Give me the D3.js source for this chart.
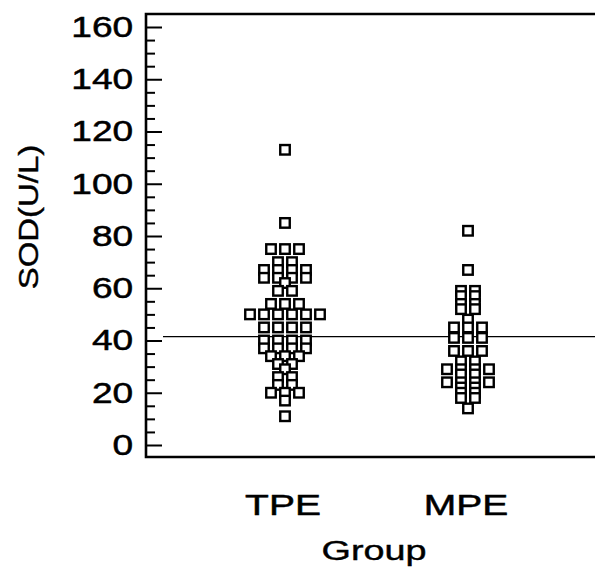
<!DOCTYPE html>
<html>
<head>
<meta charset="utf-8">
<script src="https://cdn.jsdelivr.net/npm/d3@7"></script>
<style>
  body { margin: 0; background: #fff; }
  svg { display: block; }
</style>
</head>
<body>
<svg id="chart"></svg>
<script>
// Data
const groups = ["TPE", "MPE"];
const tpeValues = [113, 85, 75, 75, 75, 70, 70, 67, 67, 67, 67, 64, 64, 64, 64, 62, 59, 59,
  54, 54, 54, 50, 50, 50, 50, 50, 50, 45, 45, 45, 45, 40, 40, 40, 40, 37, 37, 37, 37,
  34, 34, 34, 31, 31, 29, 26, 26, 23, 23, 20, 20, 20, 17, 11];
const mpeValues = [82, 67, 59, 59, 57, 57, 54, 54, 52, 52, 48, 45, 45, 45, 41, 41, 41,
  36, 36, 36, 32, 32, 29, 29, 29, 29, 27, 27, 24, 24, 24, 24, 22, 22, 20, 20, 18, 18, 14];
const yTicks = [0, 20, 40, 60, 80, 100, 120, 140, 160];
const yMinorTicks = d3.range(5, 165, 5).filter(v => v % 20 !== 0);
const refLineValue = 41.5;

const W = 595, H = 567;
const svg = d3.select("#chart").attr("width", W).attr("height", H);

const plotLeft = 146, plotTop = 14, plotBottom = 457;
const y = d3.scaleLinear().domain([0, 160]).range([445, 27]);
const x = d3.scalePoint().domain(groups).range([285, 468]);
const step = 14;    // horizontal spacing between squares
const box = 9.5;    // square size

const font = "'Liberation Sans', Arial, sans-serif";

// frame (right edge falls outside the picture)
svg.append("path")
  .attr("d", `M${W + 5},${plotTop}H${plotLeft}V${plotBottom}H${W + 5}`)
  .attr("fill", "none")
  .attr("stroke", "#000")
  .attr("stroke-width", 2.6);

// minor ticks
const minorAxis = svg.append("g")
  .attr("transform", `translate(${plotLeft},0)`)
  .call(d3.axisLeft(y).tickValues(yMinorTicks).tickSizeInner(-9).tickSizeOuter(0).tickFormat(""));
minorAxis.select(".domain").remove();
minorAxis.selectAll("line").attr("stroke-width", 2);

// major ticks + labels
const yAxis = svg.append("g")
  .attr("transform", `translate(${plotLeft},0)`)
  .call(d3.axisLeft(y).tickValues(yTicks).tickSizeInner(-16).tickSizeOuter(0).tickPadding(10));
yAxis.select(".domain").remove();
yAxis.selectAll("line").attr("stroke-width", 2);
yAxis.selectAll("text")
  .attr("font-family", font)
  .attr("font-size", 29)
  .attr("fill", "#000")
  .attr("stroke", "#000")
  .attr("stroke-width", 0.5)
  .attr("transform", "scale(1.28,1)");

// reference line
svg.append("line")
  .attr("x1", plotLeft + 17)
  .attr("x2", W)
  .attr("y1", y(refLineValue))
  .attr("y2", y(refLineValue))
  .attr("stroke", "#000")
  .attr("stroke-width", 1.4);

// dot plot: identical values share a row, spread symmetrically
function layout(group, values) {
  const rows = d3.rollup(values, v => v.length, d => d);
  const pts = [];
  rows.forEach((n, v) => {
    for (let i = 0; i < n; i++) {
      pts.push({ group, value: v, offset: i - (n - 1) / 2 });
    }
  });
  return pts;
}
const points = layout("TPE", tpeValues).concat(layout("MPE", mpeValues));

svg.append("g")
  .selectAll("rect")
  .data(points)
  .join("rect")
  .attr("x", d => x(d.group) + d.offset * step - box / 2)
  .attr("y", d => y(d.value) - box / 2)
  .attr("width", box)
  .attr("height", box)
  .attr("fill", "#fff")
  .attr("stroke", "#000")
  .attr("stroke-width", 2.4);

// category labels
svg.append("g")
  .selectAll("text")
  .data(groups)
  .join("text")
  .attr("transform", d => `translate(${x(d) - 2},515) scale(1.3,1)`)
  .attr("text-anchor", "middle")
  .attr("font-family", font)
  .attr("font-size", 30)
  .attr("stroke", "#000")
  .attr("stroke-width", 0.5)
  .text(d => d);

// axis titles
svg.append("text")
  .attr("transform", "translate(374,560) scale(1.4,1)")
  .attr("text-anchor", "middle")
  .attr("font-family", font)
  .attr("font-size", 27)
  .attr("stroke", "#000")
  .attr("stroke-width", 0.4)
  .text("Group");

svg.append("text")
  .attr("transform", "translate(38,217) rotate(-90) scale(1.22,1)")
  .attr("text-anchor", "middle")
  .attr("font-family", font)
  .attr("font-size", 27)
  .attr("stroke", "#000")
  .attr("stroke-width", 0.4)
  .text("SOD(U/L)");
</script>
</body>
</html>
